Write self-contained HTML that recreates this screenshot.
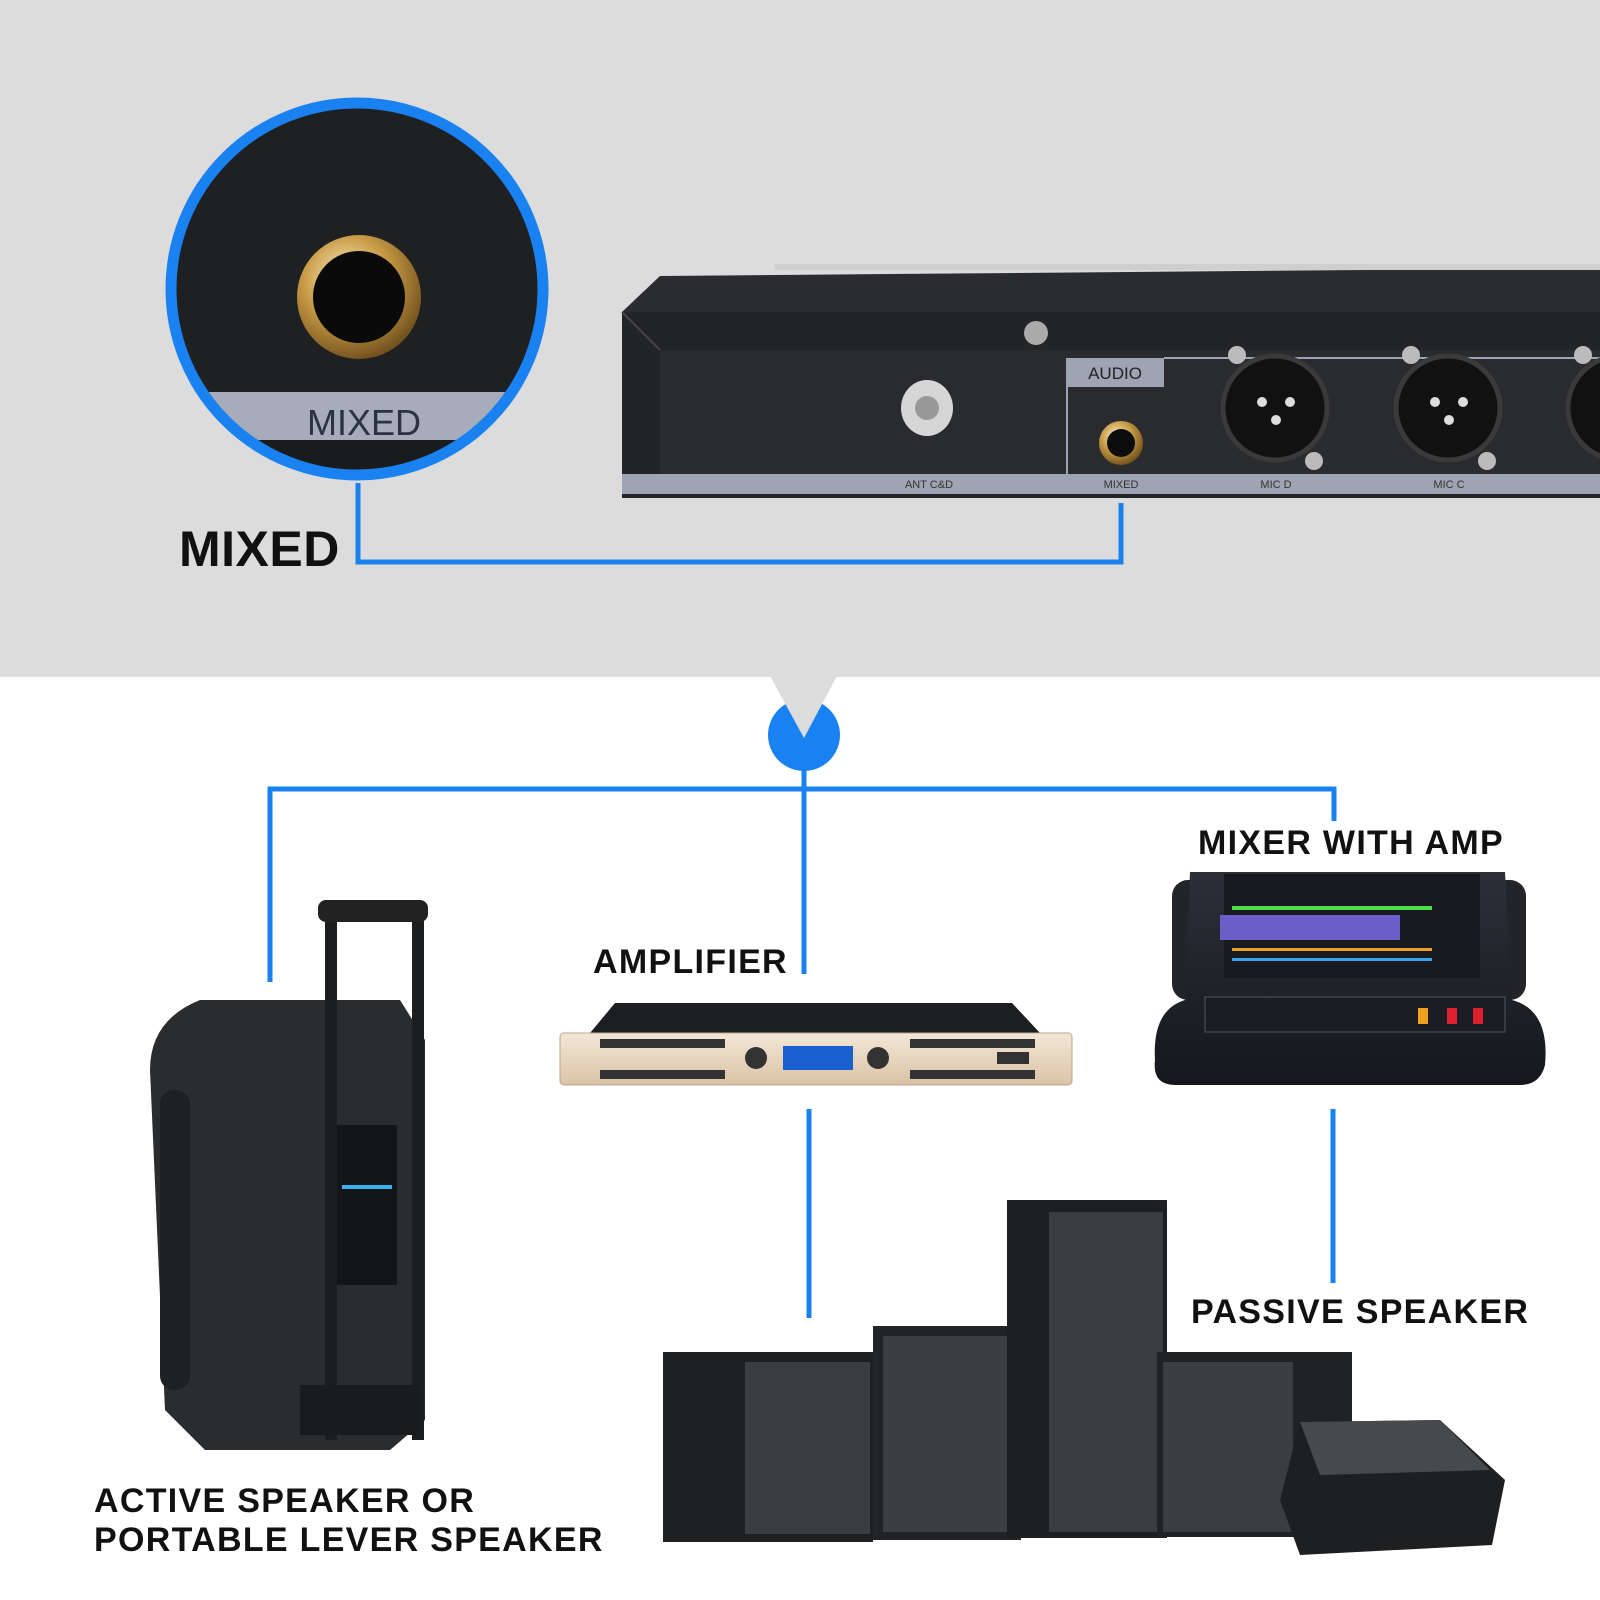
<!DOCTYPE html>
<html><head><meta charset="utf-8"><style>
html,body{margin:0;padding:0;background:#fff}
body{width:1600px;height:1600px;position:relative;overflow:hidden;font-family:"Liberation Sans",Arial,sans-serif}
.t{position:absolute;font-weight:bold;color:#111;white-space:nowrap;letter-spacing:1.3px}
</style></head><body>
<svg width="1600" height="1600" viewBox="0 0 1600 1600" style="position:absolute;left:0;top:0">
<defs>
<radialGradient id="gold" cx="40%" cy="35%" r="70%"><stop offset="0" stop-color="#fff3c8"/><stop offset="0.5" stop-color="#c79a45"/><stop offset="1" stop-color="#6a4a1a"/></radialGradient>
<linearGradient id="amp" x1="0" y1="0" x2="0" y2="1"><stop offset="0" stop-color="#f3e7d6"/><stop offset="1" stop-color="#d9c3a5"/></linearGradient>
<linearGradient id="mix" x1="0" y1="0" x2="0" y2="1"><stop offset="0" stop-color="#2c2f38"/><stop offset="1" stop-color="#15171c"/></linearGradient>
</defs>
<rect x="0" y="0" width="1600" height="677" fill="#dcdcdc"/>
<!-- rack device -->
<polygon points="622,312 660,276 1600,268 1600,312" fill="#2b2c2f"/>
<rect x="775" y="264" width="825" height="6" fill="#cfcfcf"/>
<rect x="622" y="312" width="978" height="186" fill="#232427"/>
<rect x="660" y="350" width="940" height="126" fill="#2a2b2e"/>
<line x1="622" y1="312" x2="660" y2="350" stroke="#444" stroke-width="2"/>
<rect x="622" y="474" width="978" height="20" fill="#9ea4b3"/>
<rect x="1066" y="358" width="98" height="29" fill="#9ea4b3"/>
<line x1="1067" y1="358" x2="1067" y2="476" stroke="#9ea4b3" stroke-width="2"/>
<line x1="1164" y1="358" x2="1600" y2="358" stroke="#9ea4b3" stroke-width="2"/>
<text x="1115" y="379" font-size="17" text-anchor="middle" fill="#222" font-family="Liberation Sans">AUDIO</text>
<g font-size="11" fill="#333" text-anchor="middle" font-family="Liberation Sans">
<text x="929" y="488">ANT C&amp;D</text><text x="1121" y="488">MIXED</text><text x="1276" y="488">MIC D</text><text x="1449" y="488">MIC C</text></g>
<circle cx="1036" cy="333" r="12" fill="#aaa"/>
<ellipse cx="927" cy="408" rx="26" ry="28" fill="#d6d6d6"/><circle cx="927" cy="408" r="12" fill="#999"/>
<circle cx="1121" cy="443" r="22" fill="url(#gold)"/><circle cx="1121" cy="443" r="14" fill="#0c0c0c"/>
<g>
<circle cx="1275" cy="408" r="52" fill="#111" stroke="#3a3a3a" stroke-width="5"/><circle cx="1262" cy="402" r="5" fill="#ddd"/><circle cx="1290" cy="402" r="5" fill="#ddd"/><circle cx="1276" cy="420" r="5" fill="#ddd"/>
<circle cx="1448" cy="408" r="52" fill="#111" stroke="#3a3a3a" stroke-width="5"/><circle cx="1435" cy="402" r="5" fill="#ddd"/><circle cx="1463" cy="402" r="5" fill="#ddd"/><circle cx="1449" cy="420" r="5" fill="#ddd"/>
<circle cx="1620" cy="408" r="52" fill="#111" stroke="#3a3a3a" stroke-width="5"/>
<circle cx="1237" cy="355" r="9" fill="#bbb"/><circle cx="1314" cy="461" r="9" fill="#bbb"/><circle cx="1411" cy="355" r="9" fill="#bbb"/><circle cx="1487" cy="461" r="9" fill="#bbb"/><circle cx="1583" cy="355" r="9" fill="#bbb"/>
</g>
<!-- zoom circle -->
<clipPath id="cc"><circle cx="357" cy="289" r="186"/></clipPath>
<g clip-path="url(#cc)">
<rect x="160" y="90" width="400" height="400" fill="#1f2022"/>
<rect x="160" y="392" width="400" height="48" fill="#a6acba"/>
<rect x="160" y="440" width="400" height="60" fill="#1a1b1d"/>
</g>
<circle cx="357" cy="289" r="186" fill="none" stroke="#1a82f0" stroke-width="11"/>
<text x="364" y="435" font-size="36" text-anchor="middle" fill="#2c3340" font-family="Liberation Sans">MIXED</text>
<circle cx="359" cy="297" r="62" fill="url(#gold)"/>
<circle cx="359" cy="297" r="46" fill="#0a0a0a"/>
<!-- blue connectors -->
<g stroke="#1a82f0" stroke-width="5" fill="none">
<polyline points="358,483 358,562 1121,562 1121,503"/>
<polyline points="270,982 270,789 1334,789 1334,821"/>
<line x1="804" y1="735" x2="804" y2="974"/>
<line x1="809" y1="1109" x2="809" y2="1318"/>
<line x1="1333" y1="1109" x2="1333" y2="1283"/>
</g>
<circle cx="804" cy="735" r="36" fill="#1a82f0"/>
<polygon points="770,676 837,676 804,738" fill="#dcdcdc"/>
<!-- amplifier -->
<polygon points="590,1033 615,1003 1012,1003 1040,1033" fill="#1d1e22"/>
<rect x="560" y="1033" width="512" height="52" rx="4" fill="url(#amp)" stroke="#b9a78e"/>
<rect x="783" y="1046" width="70" height="24" fill="#1a5fd0"/>
<circle cx="756" cy="1058" r="11" fill="#333"/><circle cx="878" cy="1058" r="11" fill="#333"/>
<g fill="#333"><rect x="600" y="1039" width="125" height="9"/><rect x="600" y="1070" width="125" height="9"/><rect x="910" y="1039" width="125" height="9"/><rect x="910" y="1070" width="125" height="9"/><rect x="997" y="1052" width="32" height="12"/></g>
<!-- mixer -->
<rect x="1172" y="880" width="36" height="120" rx="16" fill="#22242a"/>
<rect x="1490" y="880" width="36" height="120" rx="16" fill="#22242a"/>
<path d="M1190,872 H1505 L1512,1000 Q1550,1010 1545,1065 Q1540,1085 1520,1085 H1175 Q1152,1085 1155,1060 Q1152,1010 1185,1000 Z" fill="url(#mix)"/>
<rect x="1224" y="874" width="256" height="104" fill="#181a1f"/>
<rect x="1220" y="915" width="180" height="25" fill="#6a5fc8"/>
<g fill="#4de04d"><rect x="1232" y="906" width="200" height="4"/></g>
<g fill="#f0a020"><rect x="1232" y="948" width="200" height="3"/></g>
<g fill="#3aa0f0"><rect x="1232" y="958" width="200" height="3"/></g>
<rect x="1205" y="997" width="300" height="35" fill="#1b1d22" stroke="#555"/>
<rect x="1418" y="1008" width="10" height="16" fill="#f0a020"/><rect x="1447" y="1008" width="10" height="16" fill="#e02030"/><rect x="1473" y="1008" width="10" height="16" fill="#e02030"/>
<!-- active speaker -->
<path d="M200,1000 H400 L425,1040 V1420 L390,1450 H205 L165,1410 L150,1070 Q150,1020 200,1000 Z" fill="#2b2c2e"/>
<rect x="160" y="1090" width="30" height="300" rx="14" fill="#1f2022"/>
<rect x="325" y="900" width="12" height="540" fill="#1c1d1f"/>
<rect x="412" y="920" width="12" height="520" fill="#1c1d1f"/>
<rect x="318" y="900" width="110" height="22" rx="8" fill="#222"/>
<rect x="337" y="1125" width="60" height="160" fill="#141518"/>
<g fill="#3ab0f0"><rect x="342" y="1185" width="50" height="4"/></g>
<rect x="300" y="1385" width="120" height="50" fill="#1a1b1d"/>
<!-- passive speakers -->
<rect x="663" y="1352" width="210" height="190" fill="#1f2022"/>
<rect x="745" y="1362" width="125" height="172" fill="#3c3d40"/>
<rect x="873" y="1326" width="148" height="214" fill="#222326"/>
<rect x="883" y="1336" width="128" height="196" fill="#3d3e41"/>
<rect x="1007" y="1200" width="160" height="338" fill="#1e1f22"/>
<rect x="1049" y="1212" width="114" height="320" fill="#3b3c3f"/>
<rect x="1157" y="1352" width="195" height="185" fill="#212225"/>
<rect x="1163" y="1362" width="130" height="170" fill="#3c3d40"/>
<polygon points="1300,1422 1440,1420 1505,1480 1492,1545 1300,1555 1280,1500" fill="#1e1f21"/>
<polygon points="1300,1422 1440,1420 1490,1470 1320,1475" fill="#48494c"/>
</svg>
<div class="t" style="left:179px;top:520px;font-size:50px;letter-spacing:0.5px">MIXED</div>
<div class="t" style="left:593px;top:943px;font-size:34px">AMPLIFIER</div>
<div class="t" style="left:1198px;top:824px;font-size:34px">MIXER WITH AMP</div>
<div class="t" style="left:1191px;top:1293px;font-size:34px">PASSIVE SPEAKER</div>
<div class="t" style="left:94px;top:1482px;font-size:34px;line-height:39px">ACTIVE SPEAKER OR<br>PORTABLE LEVER SPEAKER</div>
</body></html>
